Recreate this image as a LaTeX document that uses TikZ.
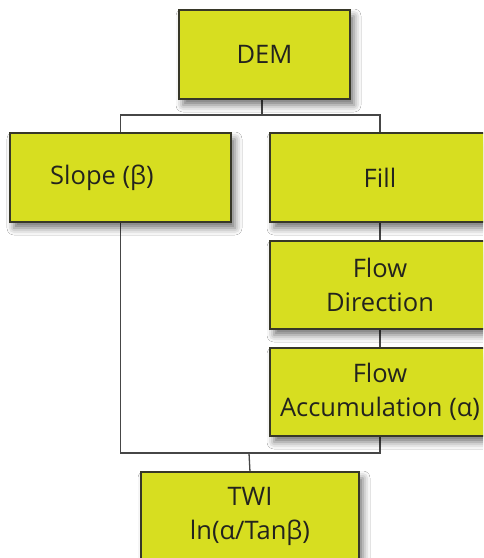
\documentclass[tikz,border=0pt]{standalone}
\usepackage{fontspec}
\setmainfont{Open Sans}
\usetikzlibrary{shadows.blur}
\definecolor{boxfill}{RGB}{215,222,32}
\definecolor{boxline}{RGB}{55,55,40}
\definecolor{wire}{RGB}{70,70,70}
\definecolor{ink}{RGB}{35,35,30}
\tikzset{
  stagebox/.style={draw=boxline, line width=1.3pt, fill=boxfill, rectangle,
    inner sep=0pt, text=ink, align=center,
    font=\fontsize{25.5}{34}\selectfont,
    blur shadow={shadow xshift=4pt, shadow yshift=-6pt,
                 shadow blur radius=7pt, shadow opacity=55}},
  boxtext/.style={text=ink, inner sep=0pt, align=center,
    font=\fontsize{25.5}{34}\selectfont},
  wireline/.style={draw=wire, line width=1.3pt}
}
\begin{document}
\begin{tikzpicture}[x=1pt,y=-1pt]
  \useasboundingbox (0,0) rectangle (483,558);
  \clip (0,0) rectangle (483,558);
  \fill[white] (0,0) rectangle (483,558);

  % junctions of the tree
  \coordinate (top) at (262,115);
  \coordinate (bot) at (249,453);

  % connectors (drawn first so the boxes sit on top)
  \path[wireline] (262,99) -- (top);
  \path[wireline] (120.5,133) |- (top) -| (380,133);
  \path[wireline] (380,222) -- (380,241);
  \path[wireline] (380,329) -- (380,348);
  \path[wireline] (120.5,222) |- (bot) -| (380,436);
  \path[wireline] (bot) -- (250,472);

  % process boxes
  \node[stagebox, minimum width=171pt, minimum height=89pt] (dem) at (264.5,54.5) {DEM};
  \node[stagebox, minimum width=221pt, minimum height=89pt] (slope) at (120.5,177.5) {};
  \node[boxtext] (slopetxt) at (102,178) {Slope (β)};
  \node[stagebox, minimum width=220pt, minimum height=89pt] (fill) at (380,177.5) {Fill};
  \node[stagebox, minimum width=220pt, minimum height=88pt] (dir) at (380,285) {Flow\\Direction};
  \node[stagebox, minimum width=220pt, minimum height=88pt] (acc) at (380,392) {Flow\\Accumulation (α)};
  \node[stagebox, minimum width=218pt, minimum height=89pt] (twi) at (250,516.5) {TWI\\ln(α/Tanβ)};
\end{tikzpicture}
\end{document}
